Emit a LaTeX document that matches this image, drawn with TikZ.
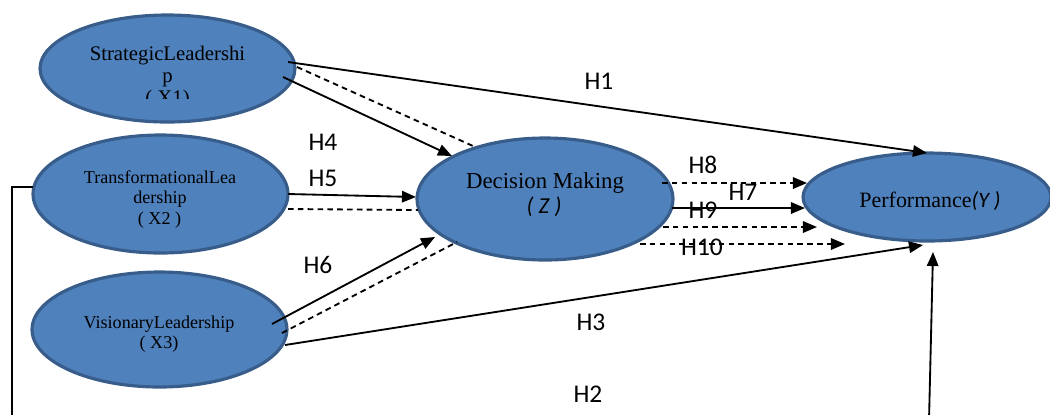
\documentclass[tikz,border=0pt]{standalone}
\usepackage{fontspec}
\setmainfont{Liberation Serif}
\newfontfamily\labfont{Carlito}
\usetikzlibrary{shapes.geometric,arrows.meta}
\definecolor{fillb}{HTML}{4F81BD}
\definecolor{edgeb}{HTML}{385D8A}
\begin{document}
\begin{tikzpicture}[x=0.02cm,y=-0.02cm,
  ell/.style={ellipse,draw=edgeb,fill=fillb,line width=1.8pt,inner sep=0},
  txt/.style={anchor=base,inner sep=0,font=\fontsize{11.8}{12}\selectfont},
  stxt/.style={anchor=base,inner sep=0,font=\fontsize{10.3}{12}\selectfont},
  dtxt/.style={anchor=base,inner sep=0,font=\fontsize{13}{13}\selectfont},
  itl/.style={font=\labfont\itshape\fontsize{13}{13}\selectfont},
  hl/.style={inner sep=0,font=\labfont\fontsize{14.5}{14.5}\selectfont},
  con/.style={line width=1.05pt},
  arr/.style={con,-{Triangle[length=8pt,width=6.5pt]}},
  dsh/.style={con,dash pattern=on 3.2pt off 2.4pt},
  darr/.style={dsh,-{Triangle[length=8pt,width=6.5pt]}}]
\useasboundingbox (0,0) rectangle (1050,414);

% ellipses
\node[ell,minimum width=5.1cm,minimum height=2.14cm] (S) at (167.5,68.5) {};
\node[ell,minimum width=5.1cm,minimum height=2.36cm] (T) at (160.5,194) {};
\node[ell,minimum width=5.1cm,minimum height=2.3cm] (V) at (159.5,329.5) {};
\node[ell,minimum width=5.12cm,minimum height=2.44cm] (D) at (545,199) {};
\node[ell,minimum width=4.96cm,minimum height=1.76cm] (P) at (927,197) {};

% ellipse texts
\node[txt] (S1) at (167.5,60) {StrategicLeadershi};
\node[txt] (S2) at (167.5,82) {p};
\begin{scope}
  \clip (0,0) rectangle (1050,98);
  \node[txt] (S3) at (167.5,104) {( X1)};
\end{scope}
\node[stxt] (T1) at (160,183) {TransformationalLea};
\node[stxt] (T2) at (160,203) {dership};
\node[stxt] (T3) at (159.5,224) {( X2 )};
\node[stxt] (V1) at (159,328) {VisionaryLeadership};
\node[stxt] (V2) at (159,348) {( X3)};
\node[dtxt] (D1) at (545,188) {Decision Making};
\node[dtxt,itl] (D2) at (544,213) {( Z )};
\node[txt,font=\fontsize{12.5}{12}\selectfont] (P1) at (930,207) {Performance{\labfont\itshape(Y )}};

% connectors from leadership to performance
\draw[arr] ([shift={(120.5,-6.5)}]S.center) -- ([shift={(0,-44)}]P.center);
\draw[arr] ([shift={(125.5,15.5)}]V.center) -- ([shift={(-4,48)}]P.center);

% leadership to decision making
\draw[arr] ([shift={(115.5,8.5)}]S.center) -- ([shift={(-93,-43)}]D.center);
\draw[dsh] ([shift={(129.5,-1.5)}]S.center) -- ([shift={(-72,-53)}]D.center);
\draw[arr] ([shift={(127.5,0)}]T.center) -- ([shift={(-129,-2)}]D.center);
\draw[dsh] ([shift={(127.5,15)}]T.center) -- ([shift={(-127,11)}]D.center);
\draw[arr] ([shift={(112.5,-5.5)}]V.center) -- ([shift={(-110,38)}]D.center);
\draw[dsh] ([shift={(122.5,3.5)}]V.center) -- ([shift={(-88,43)}]D.center);

% decision making to performance
\draw[darr] ([shift={(117,-16)}]D.center) -- ([shift={(-120,-14)}]P.center);
\draw[arr] ([shift={(127,9)}]D.center) -- ([shift={(-122,11)}]P.center);
\draw[darr] ([shift={(118,28)}]D.center) -- ([shift={(-110,30)}]P.center);
\draw[darr] ([shift={(95,45)}]D.center) -- ([shift={(-82,47)}]P.center);

% H2 path
\coordinate (H2a) at (12,420);
\coordinate (H2b) at (929,420);
\draw[con] ([shift={(-127.5,-7)}]T.center) -| (H2a);
\draw[arr] (H2b) -- ([shift={(6,55)}]P.center);

% labels
\node[hl] (L1) at (599,81) {H1};
\node[hl] (L4) at (323,142) {H4};
\node[hl] (L5) at (323,178) {H5};
\node[hl] (L6) at (318,265) {H6};
\node[hl] (L3) at (591,322) {H3};
\node[hl] (L2) at (588,394) {H2};
\node[hl] (L8) at (703,165) {H8};
\node[hl] (L7) at (743,192) {H7};
\node[hl] (L9) at (703,210) {H9};
\node[hl] (L10) at (702,247) {H10};
\end{tikzpicture}
\end{document}
